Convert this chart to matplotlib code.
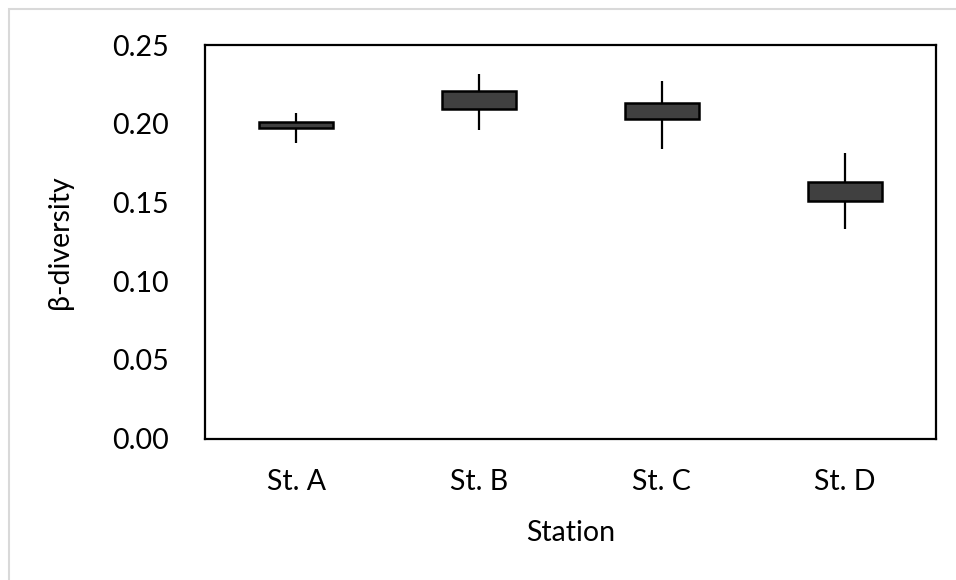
import matplotlib
matplotlib.use("Agg")
import matplotlib.pyplot as plt
from matplotlib.patches import Rectangle

stations = ["St. A", "St. B", "St. C", "St. D"]
box_low = [0.1976, 0.2097, 0.2030, 0.1510]
box_high = [0.2010, 0.2208, 0.2133, 0.1631]
whisk_low = [0.1881, 0.1961, 0.1841, 0.1332]
whisk_high = [0.2068, 0.2318, 0.2275, 0.1817]
yticks = [0.00, 0.05, 0.10, 0.15, 0.20, 0.25]

plt.rcParams['font.family'] = ['Lato', 'DejaVu Sans']

fig = plt.figure(figsize=(9.56, 5.80), dpi=100)
W, H = 956, 580
ax = fig.add_axes([205 / W, 1 - 438.5 / H, (936 - 205) / W, (438.5 - 45.3) / H])

# outer chart border (light gray)
fig.patches.append(Rectangle((9 / W, -0.1), 1.2, 1 - 9 / H + 0.1, transform=fig.transFigure,
                             fill=False, edgecolor='#d9d9d9', linewidth=1.5))

x = list(range(len(stations)))
ax.vlines(x, whisk_low, whisk_high, colors='black', linewidth=1.6, zorder=1)
heights = [h - l for h, l in zip(box_high, box_low)]
ax.bar(x, heights, bottom=box_low, width=0.405, color='#404040', edgecolor='black',
       linewidth=1.8, zorder=2)

ax.set_xlim(-0.5, 3.5)
ax.set_ylim(0, 0.25)
ax.set_yticks(yticks)
ax.set_yticklabels([f"{v:.2f}" for v in yticks])
ax.set_xticks(x)
ax.set_xticklabels(stations)
ax.tick_params(axis='both', length=0, labelsize=20.5, colors='black')
ax.tick_params(axis='y', pad=26)
ax.tick_params(axis='x', pad=22)
for s in ax.spines.values():
    s.set_linewidth(1.6)
    s.set_color('black')

ax.set_ylabel("β-diversity", fontsize=20.5, labelpad=28)
ax.set_xlabel("Station", fontsize=20.5, labelpad=18)

fig.savefig("out.png", dpi=100)
